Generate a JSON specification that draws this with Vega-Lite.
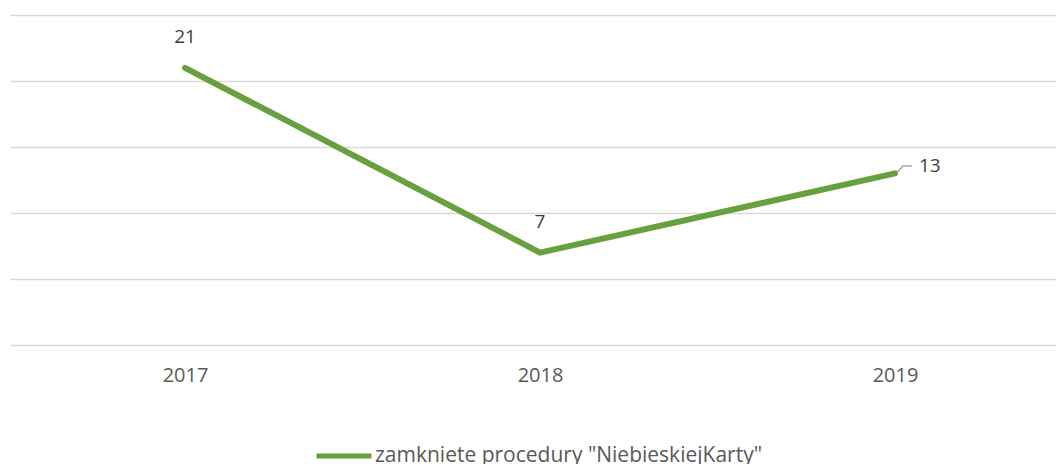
{
  "$schema": "https://vega.github.io/schema/vega-lite/v6.json",
  "width": 1046,
  "height": 330,
  "autosize": {"type": "none"},
  "padding": {"left": 10, "top": 15, "right": 0, "bottom": 119},
  "background": "white",
  "config": {"view": {"stroke": null}, "font": "Open Sans"},
  "data": {"values": [
    {"year": 2017, "value": 21, "series": "zamkniete procedury \"NiebieskiejKarty\""},
    {"year": 2018, "value": 7, "series": "zamkniete procedury \"NiebieskiejKarty\""},
    {"year": 2019, "value": 13, "series": "zamkniete procedury \"NiebieskiejKarty\""}
  ]},
  "encoding": {
    "x": {"field": "year", "type": "quantitative", "scale": {"domain": [2016.507, 2019.4535], "nice": false, "zero": false},
      "axis": {"title": null, "domain": false, "ticks": false, "grid": false, "values": [2017, 2018, 2019], "format": "d", "labelFontSize": 20, "labelColor": "#595959", "labelPadding": 20, "labelFlush": false}},
    "y": {"field": "value", "type": "quantitative", "scale": {"domain": [0, 25]},
      "axis": {"title": null, "labels": false, "ticks": false, "domain": false, "values": [0, 5, 10, 15, 20, 25], "gridColor": "#D9D9D9", "gridWidth": 1.5}}
  },
  "layer": [
    {
      "mark": {"type": "line", "strokeWidth": 6, "strokeCap": "round"},
      "encoding": {
        "color": {"field": "series", "type": "nominal", "scale": {"range": ["#66A03F"]},
          "legend": {"title": null, "orient": "none", "legendX": 304, "legendY": 411, "symbolType": "stroke", "symbolSize": 3025, "symbolStrokeWidth": 5, "labelFontSize": 21, "labelColor": "#595959", "labelOffset": 1, "labelLimit": 700}}
      }
    },
    {
      "transform": [{"filter": "datum.year != 2019"}],
      "mark": {"type": "text", "dy": -31, "fontSize": 19, "color": "#404040"},
      "encoding": {"text": {"field": "value", "type": "quantitative"}}
    },
    {
      "transform": [{"filter": "datum.year == 2019"}],
      "mark": {"type": "text", "dx": 24, "dy": -7, "align": "left", "fontSize": 19, "color": "#404040"},
      "encoding": {"text": {"field": "value", "type": "quantitative"}}
    },
    {
      "transform": [{"filter": "datum.year == 2019"}],
      "mark": {"type": "point", "shape": "M0.2,-0.1L0.8,-0.75L1.7,-0.75", "size": 400, "filled": false, "stroke": "#A6A6A6", "strokeWidth": 1.5, "opacity": 1}
    }
  ]
}
